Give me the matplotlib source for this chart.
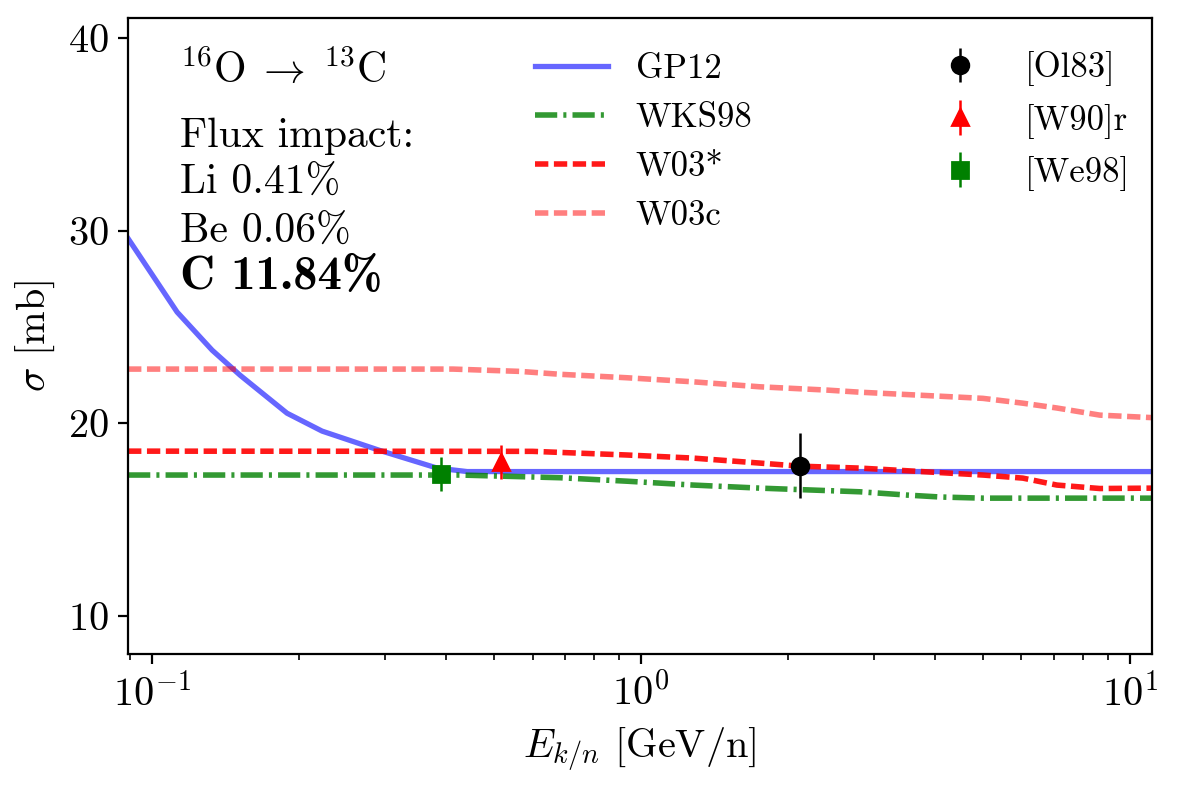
import numpy as np
import matplotlib.pyplot as plt

plt.rcParams['font.family'] = 'cmr10'
plt.rcParams['mathtext.fontset'] = 'cm'
plt.rcParams['axes.formatter.use_mathtext'] = True

# model curves (E in GeV/n, sigma in mb)
E_gp12 = [0.0893, 0.1125, 0.1327, 0.1514, 0.1888, 0.2227, 0.292, 0.383, 0.441, 11.1]
s_gp12 = [29.6, 25.78, 23.8, 22.5, 20.53, 19.6, 18.6, 17.68, 17.5, 17.5]

E_wks98 = [0.0893, 0.4266, 0.683, 0.936, 1.277, 1.751, 2.805, 3.5, 4.09, 5.006, 11.1]
s_wks98 = [17.32, 17.32, 17.18, 17.0, 16.8, 16.64, 16.45, 16.28, 16.18, 16.12, 16.12]

E_w03s = [0.0893, 0.6, 0.936, 1.277, 1.751, 2.114, 2.805, 5.006, 6.04, 7.09, 8.68, 11.1]
s_w03s = [18.56, 18.55, 18.36, 18.2, 17.94, 17.78, 17.68, 17.32, 17.16, 16.8, 16.62, 16.64]

E_w03c = [0.0893, 0.4125, 0.5657, 0.683, 0.936, 1.277, 1.751, 2.401, 2.805, 5.006, 6.04, 7.09, 8.68, 11.1]
s_w03c = [22.82, 22.82, 22.7, 22.55, 22.37, 22.16, 21.9, 21.73, 21.62, 21.3, 21.05, 20.8, 20.43, 20.3]

# data points
E_ol83, s_ol83, e_ol83 = [2.11], [17.81], [1.69]
E_w90, s_w90, e_w90 = [0.516], [17.99], [0.88]
E_we98, s_we98, e_we98 = [0.389], [17.37], [0.88]

fig, ax = plt.subplots(figsize=(5.885, 3.935), dpi=200)
fig.subplots_adjust(left=0.1088, right=0.9788, bottom=0.169, top=0.977)

l1, = ax.plot(E_gp12, s_gp12, color='blue', alpha=0.6, lw=1.9, label='GP12')
l2, = ax.plot(E_wks98, s_wks98, color='green', alpha=0.8, lw=2, dashes=(4, 1.1, 0.55, 1.1), label='WKS98')
l3, = ax.plot(E_w03s, s_w03s, color='red', alpha=0.9, lw=2, dashes=(2.4, 1.0), label='W03*')
l4, = ax.plot(E_w03c, s_w03c, color='red', alpha=0.5, lw=2, dashes=(2.4, 1.0), label='W03c')

p1 = ax.errorbar(E_ol83, s_ol83, yerr=e_ol83, fmt='o', color='black', elinewidth=0.9, label='[Ol83]')
p2 = ax.errorbar(E_w90, s_w90, yerr=e_w90, fmt='^', color='red', elinewidth=0.9, label='[W90]r')
p3 = ax.errorbar(E_we98, s_we98, yerr=e_we98, fmt='s', color='green', elinewidth=0.9, label='[We98]')

ax.set_xscale('log')
ax.set_xlim(0.0893, 11.1)
ax.set_ylim(8.03, 41.04)
ax.set_yticks([10, 20, 30, 40])
ax.tick_params(labelsize=14.5)
ax.set_xlabel(r'$E_{k/n}$ [GeV/n]', fontsize=14.5)
ax.set_ylabel(r'$\sigma$ [mb]', fontsize=14.5)

leg1 = ax.legend(handles=[l1, l2, l3, l4], loc='upper left', bbox_to_anchor=(0.367, 0.994),
                 frameon=False, fontsize=12.5, handlelength=2.1)
ax.add_artist(leg1)
ax.legend(handles=[p1, p2, p3], loc='upper left', bbox_to_anchor=(0.7466, 0.997),
          frameon=False, fontsize=12.5, handlelength=2.1)

ax.text(0.051, 0.898, r'$^{16}\mathrm{O} \;\rightarrow\; {}^{13}\mathrm{C}$', transform=ax.transAxes,
        fontsize=15, va='baseline')
ax.text(0.051, 0.797, 'Flux impact:', transform=ax.transAxes, fontsize=15, va='baseline')
ax.text(0.051, 0.725, 'Li 0.41%', transform=ax.transAxes, fontsize=15, va='baseline')
ax.text(0.051, 0.648, 'Be 0.06%', transform=ax.transAxes, fontsize=15, va='baseline')
ax.text(0.051, 0.574, 'C 11.84%', transform=ax.transAxes, fontsize=17.5, va='baseline',
        family='cmb10')

fig.savefig('out.png')
